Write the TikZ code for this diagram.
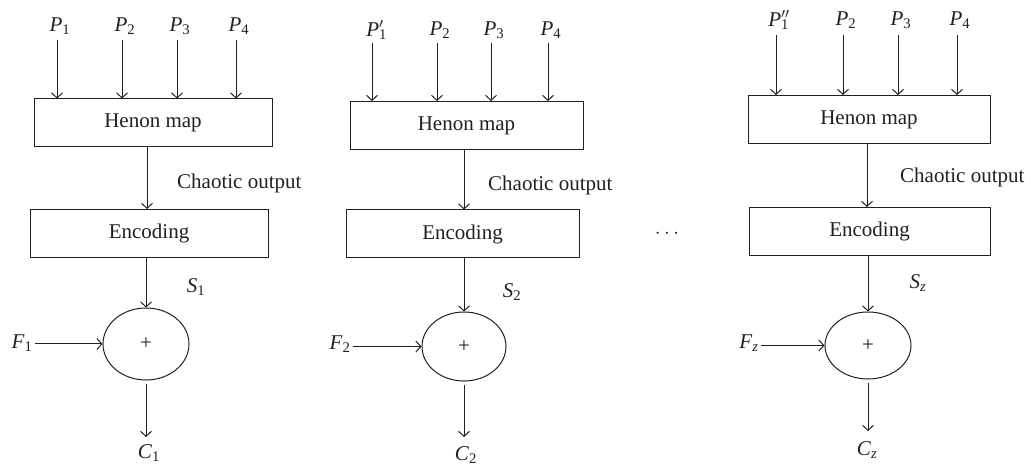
\documentclass[tikz,border=0pt]{standalone}
\usepackage{fontspec}
\setmainfont{Liberation Serif}
\usetikzlibrary{arrows.meta,shapes.geometric}
\definecolor{ink}{HTML}{231F20}
\newcommand{\iv}[2]{\textit{#1}\textsubscript{#2}}
\begin{document}
\begin{tikzpicture}[x=1pt,y=-1pt,
  every node/.style={font=\fontsize{21}{25}\selectfont, text=ink, inner sep=2pt},
  hbox/.style={draw=ink, line width=1pt, minimum height=48pt, inner sep=0pt},
  sumnode/.style={draw=ink, line width=1pt, ellipse, inner sep=0pt, font=\fontsize{21}{25}\selectfont},
  arr/.style={draw=ink, line width=1pt, -{Straight Barb[length=5pt,width=11pt]}}]
\useasboundingbox (0,0) rectangle (1031,470);

% ---------- column 1 ----------
\node[hbox, minimum width=238pt] (h1) at (153,123) {Henon map};
\node[hbox, minimum width=238pt] (e1) at (149,233.5) {Encoding};
\node[sumnode, minimum width=86pt, minimum height=72pt] (s1) at (146,344) {+};
\node (p11) at (60,26) {\iv{P}{1}};
\node (p12) at (125,26) {\iv{P}{2}};
\node (p13) at (180,26) {\iv{P}{3}};
\node (p14) at (239,26) {\iv{P}{4}};
\coordinate (t11) at (57,40);
\coordinate (t12) at (122,40);
\coordinate (t13) at (177,40);
\coordinate (t14) at (236,40);
\foreach \i in {1,2,3,4} \draw[arr] (t1\i) -- (t1\i |- h1.north);
\coordinate (v1) at (147,0);
\draw[arr] (h1.south -| v1) -- (e1.north -| v1);
\node[anchor=west] (co1) at (175,183) {Chaotic output};
\draw[arr] (s1 |- e1.south) -- (s1.north);
\node (sl1) at (196,287) {\iv{S}{1}};
\node (f1) at (22,343) {\iv{F}{1}};
\draw[arr] (s1.west -| f1.east) -- (s1.west);
\coordinate (o1) at (146,437);
\draw[arr, shorten <=3pt] (s1.south) -- (o1);
\node (c1) at (149,453) {\iv{C}{1}};

% ---------- column 2 ----------
\node[hbox, minimum width=233pt] (h2) at (466.5,125.5) {Henon map};
\node[hbox, minimum width=233pt] (e2) at (462.5,234) {Encoding};
\node[sumnode, minimum width=84pt, minimum height=69pt] (s2) at (464,346.5) {+};
\node (p21) at (375,30) {\textit{P}\rlap{\textsubscript{1}}$^{\prime}$};
\node (p22) at (440,30) {\iv{P}{2}};
\node (p23) at (494,30) {\iv{P}{3}};
\node (p24) at (551,30) {\iv{P}{4}};
\coordinate (t21) at (372,43);
\coordinate (t22) at (437,43);
\coordinate (t23) at (491,43);
\coordinate (t24) at (548,43);
\foreach \i in {1,2,3,4} \draw[arr] (t2\i) -- (t2\i |- h2.north);
\coordinate (v2) at (464,0);
\draw[arr] (h2.south -| v2) -- (e2.north -| v2);
\node[anchor=west] (co2) at (486,185) {Chaotic output};
\draw[arr] (s2 |- e2.south) -- (s2.north);
\node (sl2) at (512,292) {\iv{S}{2}};
\node (f2) at (340,344) {\iv{F}{2}};
\draw[arr] (s2.west -| f2.east) -- (s2.west);
\coordinate (o2) at (464,437);
\draw[arr, shorten <=3pt] (s2.south) -- (o2);
\node (c2) at (466,455) {\iv{C}{2}};

% ---------- dots ----------
\node (dots) at (667,234) {$\cdots$};

% ---------- column 3 ----------
\node[hbox, minimum width=242pt] (h3) at (869,119.5) {Henon map};
\node[hbox, minimum width=241pt] (e3) at (869.5,231.5) {Encoding};
\node[sumnode, minimum width=86pt, minimum height=67pt] (s3) at (868,345.5) {+};
\node (p31) at (779,20) {\textit{P}\rlap{\textsubscript{1}}$^{\prime\prime}$};
\node (p32) at (846,20) {\iv{P}{2}};
\node (p33) at (901,20) {\iv{P}{3}};
\node (p34) at (960,20) {\iv{P}{4}};
\coordinate (t31) at (776,35);
\coordinate (t32) at (843,35);
\coordinate (t33) at (898,35);
\coordinate (t34) at (957,35);
\foreach \i in {1,2,3,4} \draw[arr] (t3\i) -- (t3\i |- h3.north);
\coordinate (v3) at (867,0);
\draw[arr] (h3.south -| v3) -- (e3.north -| v3);
\node[anchor=west] (co3) at (898,177) {Chaotic output};
\draw[arr] (s3 |- e3.south) -- (s3.north);
\node (sl3) at (918,283) {\iv{S}{\textit{z}}};
\node (f3) at (749,343) {\iv{F}{\textit{z}}};
\draw[arr] (s3.west -| f3.east) -- (s3.west);
\coordinate (o3) at (868,431);
\draw[arr, shorten <=3pt] (s3.south) -- (o3);
\node (c3) at (867,450) {\iv{C}{\textit{z}}};
\end{tikzpicture}
\end{document}
